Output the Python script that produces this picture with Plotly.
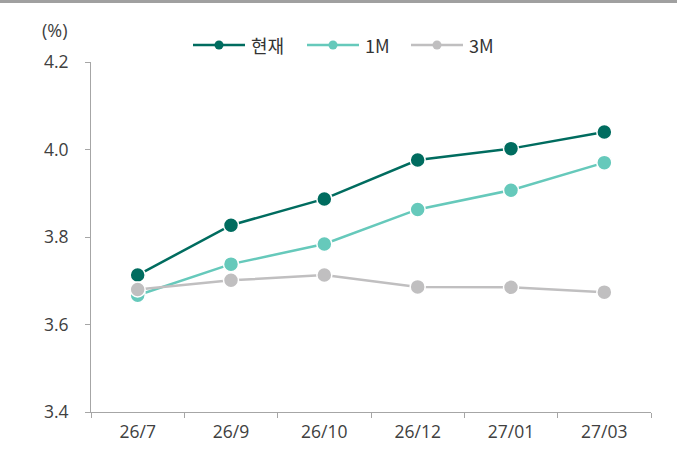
import plotly.graph_objects as go

categories = ["26/7", "26/9", "26/10", "26/12", "27/01", "27/03"]
current = [3.713, 3.827, 3.887, 3.976, 4.002, 4.040]
one_m = [3.667, 3.738, 3.784, 3.863, 3.907, 3.970]
three_m = [3.680, 3.701, 3.713, 3.686, 3.685, 3.674]

series_names = ["현재", "1M", "3M"]
series_values = [current, one_m, three_m]
series_colors = ["#006c5f", "#66c9bb", "#c0bfc0"]

FONT = "Open Sans, Noto Sans CJK KR"

W, H = 677, 450
L, R, T, B = 91, 26, 62, 38
PW, PH = W - L - R, H - T - B


def px_x(p):
    return (p - L) / PW


def px_y(p):
    return (H - B - p) / PH


fig = go.Figure()
for name, vals, color in zip(series_names, series_values, series_colors):
    fig.add_trace(go.Scatter(
        x=categories, y=vals, name=name, mode="lines+markers",
        line=dict(color=color, width=2.5),
        marker=dict(color=color, size=15, line=dict(color="white", width=1.5)),
        showlegend=False,
    ))

# custom legend (line + dot + label), laid out as in the reference
shapes = [dict(type="line", xref="paper", yref="paper", x0=-0.2, x1=1.1,
               y0=px_y(1.0), y1=px_y(1.0), line=dict(color="#a0a0a0", width=4))]
annotations = [dict(text="(%)", xref="paper", yref="paper", x=px_x(54.5), y=px_y(30),
                    xanchor="center", yanchor="middle", showarrow=False,
                    font=dict(size=18, color="#404040"))]
leg_starts = [193, 307, 411]
leg_y = px_y(45)
for name, color, x0 in zip(series_names, series_colors, leg_starts):
    shapes.append(dict(type="line", xref="paper", yref="paper",
                       x0=px_x(x0), x1=px_x(x0 + 52), y0=leg_y, y1=leg_y,
                       line=dict(color=color, width=2.5)))
    shapes.append(dict(type="circle", xref="paper", yref="paper",
                       xsizemode="pixel", ysizemode="pixel",
                       xanchor=px_x(x0 + 26), yanchor=leg_y,
                       x0=-4.5, x1=4.5, y0=-4.5, y1=4.5,
                       fillcolor=color, line=dict(color=color, width=0)))
    annotations.append(dict(text=name, xref="paper", yref="paper",
                            x=px_x(x0 + 56), y=leg_y, xanchor="left", yanchor="middle",
                            showarrow=False,
                            font=dict(size=18, color="#333333",
                                      family="Noto Sans CJK KR, Open Sans")))

fig.update_layout(
    width=W, height=H,
    margin=dict(l=L, r=R, t=T, b=B, autoexpand=False),
    paper_bgcolor="white", plot_bgcolor="white",
    font=dict(family=FONT, size=17.5, color="#404040"),
    showlegend=False,
    shapes=shapes,
    annotations=annotations,
)

fig.update_xaxes(
    type="category", range=[-0.5, 5.5], showgrid=False, automargin=False,
    showline=True, linecolor="#a6a6a6", linewidth=1,
    ticks="outside", tickson="boundaries", ticklen=5, tickcolor="#a6a6a6",
    tickfont=dict(size=17.5, color="#404040"), ticklabelstandoff=4,
)
fig.update_yaxes(
    range=[3.4, 4.2], dtick=0.2, tickformat=".1f", showgrid=False, zeroline=False,
    automargin=False,
    showline=True, linecolor="#a6a6a6", linewidth=1,
    ticks="outside", ticklen=5, tickcolor="#a6a6a6",
    tickfont=dict(size=17.5, color="#404040"), ticklabelstandoff=13,
)

fig.write_html("out.html", config={"displayModeBar": False},
               post_script="document.body.style.margin='0';")
